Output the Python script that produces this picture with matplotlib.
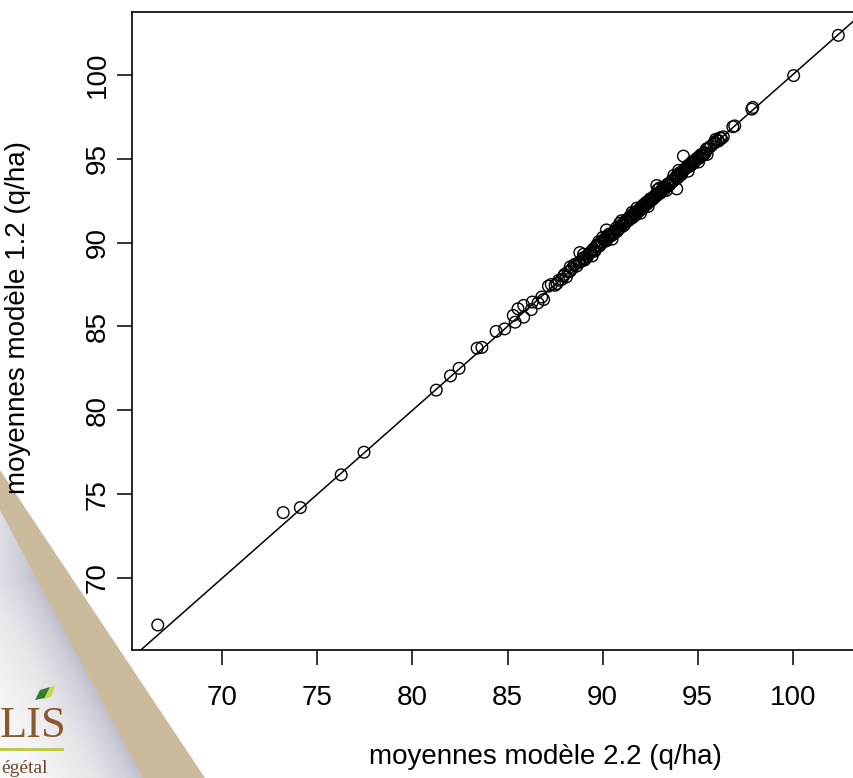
import numpy as np
import matplotlib
matplotlib.use("Agg")
import matplotlib.pyplot as plt
from matplotlib.patches import Polygon

plt.rcParams['font.family'] = ['Liberation Sans', 'DejaVu Sans']

# ---- data ----
x_vals = [66.6, 73.2, 74.1, 76.25, 77.45, 81.25, 82.0, 82.45, 83.4, 83.65,
          84.4, 84.85, 85.3, 85.4, 85.55, 85.85, 85.85, 86.25, 86.3, 86.6, 86.8, 86.9,
          87.15, 87.3, 87.5, 87.7, 87.85, 88.0, 88.1, 88.3, 88.5, 88.65, 88.8, 88.8, 88.9,
          89.0, 89.1, 89.25, 89.4, 89.5, 89.6, 89.75, 89.9, 90.0, 90.1, 90.2, 90.25,
          90.35, 90.5, 90.6, 90.7, 90.85, 91.0, 91.1, 91.2, 91.3, 91.45, 91.55, 91.6,
          91.7, 91.85, 91.95, 92.05, 92.2, 92.3, 92.4, 92.5, 92.6, 92.7, 92.85, 92.85,
          93.0, 93.1, 93.2, 93.3, 93.45, 93.55, 93.65, 93.8, 93.9, 94.0, 94.1, 94.25,
          94.4, 94.5, 94.6, 94.7, 94.85, 95.0, 95.1, 95.2, 95.4, 95.5, 95.7, 95.85,
          95.95, 96.05, 96.2, 96.35, 96.85, 96.95, 97.85, 97.9, 100.05, 102.4,
          89.2, 89.7, 90.45, 90.8, 91.4, 91.9, 92.15, 92.65, 93.05, 93.6, 94.15, 94.8,
          95.3, 88.4, 87.95, 90.2, 91.5, 93.9, 94.25, 92.85,
          88.55, 88.75, 88.95, 89.05, 89.35, 89.55, 89.65, 89.85, 90.05, 90.15, 90.3,
          90.55, 90.65, 90.75, 90.95, 91.05, 91.15, 91.25, 91.35, 91.65, 91.75, 91.8,
          92.0, 92.1, 92.25, 92.35, 92.45, 92.55, 92.75, 92.95, 93.15, 93.25, 93.4,
          93.5, 93.7, 93.85, 93.95, 94.05, 94.2, 94.35, 94.45, 94.55, 94.65, 94.75,
          94.9, 95.05, 95.15, 95.25, 95.35, 95.45, 95.6, 95.9, 96.1, 96.25, 87.6, 88.2,
          89.0, 90.5, 91.0, 92.0, 93.0, 94.5, 95.5, 88.3, 90.0, 91.8, 93.35, 94.0,
          89.45, 90.9, 92.4, 93.75, 95.05, 89.8, 91.55, 92.9]
y_vals = [67.2, 73.9, 74.2, 76.15, 77.5, 81.2, 82.05, 82.5, 83.7, 83.75,
          84.7, 84.85, 85.65, 85.25, 86.05, 86.25, 85.55, 86.0, 86.45, 86.4, 86.75, 86.6,
          87.4, 87.5, 87.45, 87.75, 87.8, 88.1, 87.95, 88.3, 88.65, 88.6, 88.85, 89.4,
          88.9, 89.1, 89.05, 89.3, 89.45, 89.6, 89.5, 89.8, 89.95, 90.0, 90.2, 90.1, 90.4,
          90.5, 90.45, 90.6, 90.85, 90.8, 91.05, 91.0, 91.25, 91.3, 91.4, 91.65, 91.5,
          91.8, 91.9, 92.0, 92.1, 92.15, 92.4, 92.4, 92.6, 92.55, 92.75, 92.8, 93.4,
          93.0, 93.1, 93.3, 93.3, 93.5, 93.55, 93.7, 93.75, 93.2, 94.0, 94.1, 95.15,
          94.45, 94.6, 94.55, 94.8, 94.85, 95.05, 95.1, 95.25, 95.35, 95.6, 95.75, 95.9,
          96.15, 96.1, 96.25, 96.3, 96.9, 96.95, 97.95, 98.05, 99.95, 102.35,
          89.15, 89.85, 90.4, 90.75, 91.5, 91.85, 92.25, 92.6, 92.95, 93.55, 94.05, 94.75,
          95.2, 88.45, 88.0, 90.75, 91.45, 93.95, 94.3, 92.9,
          88.7, 88.8, 89.05, 88.95, 89.4, 89.5, 89.75, 89.8, 90.15, 90.1, 90.35,
          90.5, 90.7, 90.65, 90.9, 91.1, 91.05, 91.35, 91.3, 91.7, 91.65, 91.85,
          92.05, 92.0, 92.3, 92.3, 92.5, 92.5, 92.7, 92.9, 93.2, 93.15, 93.45,
          93.4, 93.65, 93.9, 93.85, 94.15, 94.2, 94.4, 94.5, 94.6, 94.7, 94.7,
          94.95, 95.0, 95.2, 95.2, 95.3, 95.55, 95.65, 96.0, 96.05, 96.2, 87.55, 88.25,
          89.3, 90.2, 91.3, 91.75, 93.25, 94.25, 95.25, 88.55, 90.3, 92.05, 93.1, 94.3,
          89.2, 91.15, 92.15, 94.0, 94.8, 90.05, 91.8, 93.15]

x_ticks = [70, 75, 80, 85, 90, 95, 100]
y_ticks = [70, 75, 80, 85, 90, 95, 100]
x_label = "moyennes modèle 2.2 (q/ha)"
y_label = "moyennes modèle 1.2 (q/ha)"

W, H = 854, 778
fig = plt.figure(figsize=(W / 100, H / 100), dpi=100)

def fx(px):
    return px / W

def fy(py):
    return 1 - py / H

# ---- background logo decoration ----
bg = fig.add_axes([0, 0, 1, 1], zorder=0)
yy, xx = np.mgrid[0:H, 0:W]
l_slope = 0.534
r_slope = 0.666
left_edge = 143 - (778 - yy) * l_slope
d = left_edge - xx
shade = np.where((d > 0) & (yy > 440), np.exp(-d / 55.0), 0.0)
shade *= np.clip((yy - 440) / 140.0, 0, 1)
img = np.ones((H, W, 4))
img[..., 0] = 1 - 0.25 * shade
img[..., 1] = 1 - 0.25 * shade
img[..., 2] = 1 - 0.20 * shade
bg.imshow(img, extent=(0, W, H, 0), aspect='auto', zorder=0)
band = Polygon([(0, 470), (205, 778), (143, 778), (0, 778 - 143 / l_slope)],
               closed=True, facecolor='#cbbb9c', edgecolor='none', zorder=1)
bg.add_patch(band)
bg.text(0, 737, "LIS", ha='left', va='baseline', fontsize=32,
        family='Liberation Serif', color='#8a5a2e', zorder=2)
leaf_dark = Polygon([(35, 700), (40, 690), (50, 687), (45, 698)], closed=True,
                    facecolor='#2e7d32', edgecolor='none', zorder=3)
leaf_light = Polygon([(44, 699), (50, 687), (55, 686), (51, 697)], closed=True,
                     facecolor='#c5d84a', edgecolor='none', zorder=3)
bg.add_patch(leaf_dark)
bg.add_patch(leaf_light)
bg.plot([0, 62], [749, 749], color='#b8c93a', lw=2, zorder=2)
bg.text(1, 773, "égétal", ha='left', va='baseline', fontsize=14,
        family='Liberation Serif', color='#6b4a2a', zorder=2)
bg.set_xlim(0, W)
bg.set_ylim(H, 0)
bg.axis('off')

# ---- main plot ----
left, right = 131.7, 865.5
top, bottom = 12, 650
ax = fig.add_axes([fx(left), fy(bottom), fx(right - left), (bottom - top) / H], zorder=2)
ax.patch.set_alpha(0)
ax.set_xlim(65.23, 103.83)
ax.set_ylim(65.71, 103.74)

ax.plot([60, 110], [60, 110], color='black', lw=1.1, zorder=2)
ax.scatter(x_vals, y_vals, s=70, facecolors='none', edgecolors='black',
           linewidths=1.0, zorder=3)

ax.set_xticks(x_ticks)
ax.set_yticks(y_ticks)
ax.set_xticklabels([str(t) for t in x_ticks])
ax.set_yticklabels([str(t) for t in y_ticks], rotation=90, va='center')
ax.tick_params(axis='both', direction='out', length=11, width=1.1,
               labelsize=20, colors='black')
ax.tick_params(axis='x', pad=14)
ax.tick_params(axis='y', pad=4)
for s in ax.spines.values():
    s.set_linewidth(1.2)

ax.set_xlabel(x_label, fontsize=20)
ax.set_ylabel(y_label, fontsize=20)
ax.xaxis.set_label_coords((545 - left) / (right - left), -(757 - bottom) / (bottom - top))
ax.xaxis.label.set_va('center')
ax.yaxis.set_label_coords(-(left - 18) / (right - left), (bottom - 318) / (bottom - top))
ax.yaxis.label.set_va('center')

fig.savefig("out.png", dpi=100)
